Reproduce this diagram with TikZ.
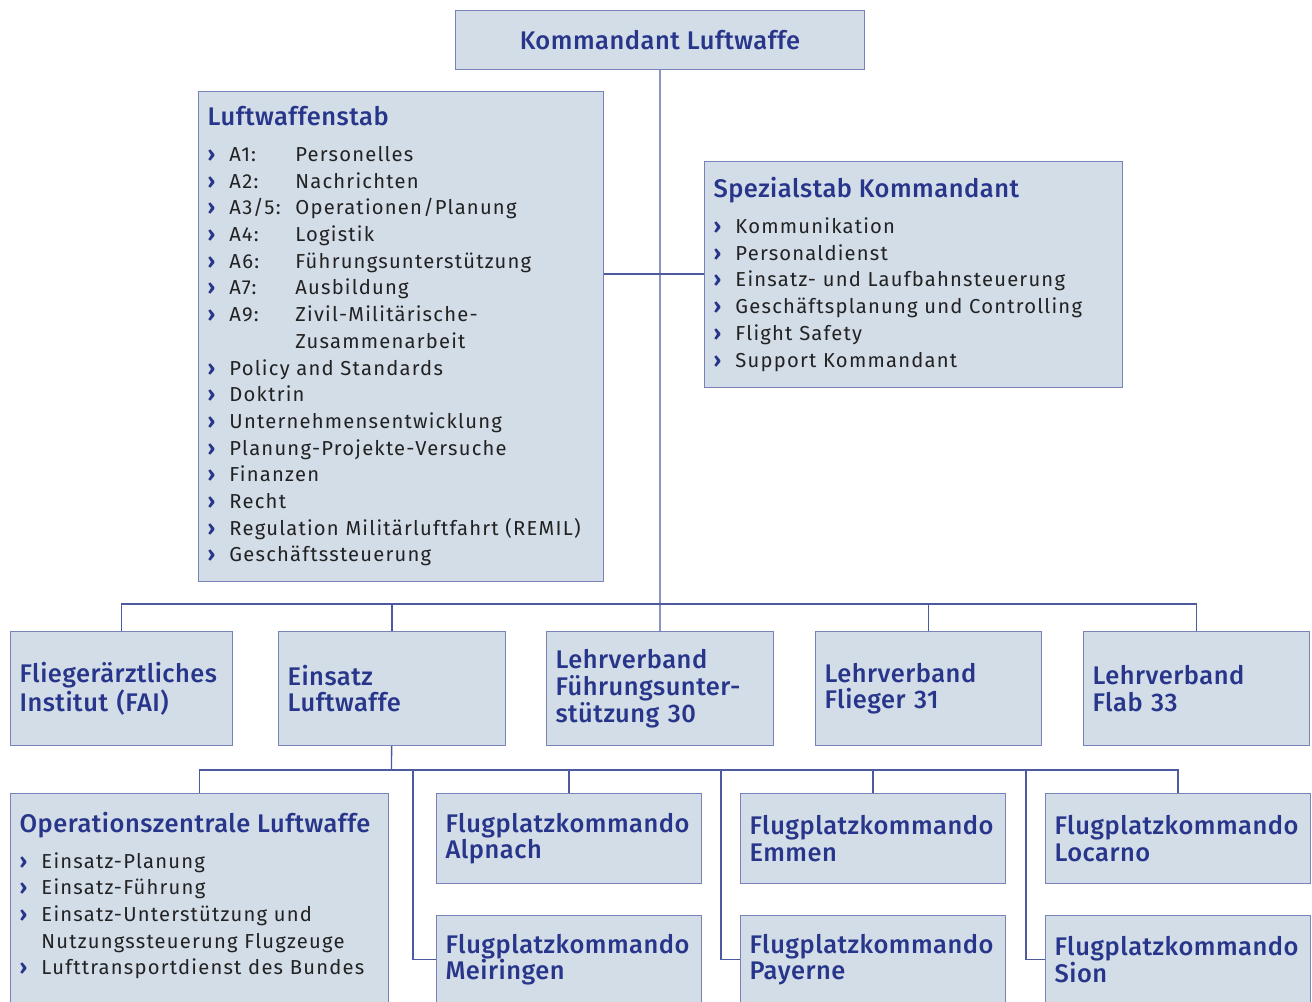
\documentclass[tikz,border=0pt]{standalone}
\usepackage{fontspec}
\setmainfont{Fira Sans}[LetterSpace=6]
\newfontfamily\medfont{Fira Sans}[UprightFont=* Medium, LetterSpace=2]
\usepackage{xcolor}
\definecolor{boxFill}{HTML}{D3DDE8}
\definecolor{boxLine}{HTML}{7783B9}
\definecolor{linkLine}{HTML}{4E5AA0}
\definecolor{navyText}{HTML}{27358A}
\definecolor{bodyText}{HTML}{222222}
\usetikzlibrary{positioning}

% bullet, key column and heading inside the staff boxes
\newcommand{\bul}{\makebox[12.5pt][l]{\textcolor{navyText}{\bfseries\large ›}}}
\newcommand{\akey}[1]{\makebox[37.5pt][l]{#1}}
\newcommand{\boxtitle}[1]{{\color{navyText}\fontsize{14.5}{15.2}\medfont #1}}

\tikzset{
    % Base style for all boxes
    orgbox/.style={
        rectangle,
        draw=boxLine,
        line width=0.6pt,
        fill=boxFill,
        anchor=north west,
        align=left,
        inner xsep=0.18cm,
        inner ysep=0pt,
        text=bodyText,
        font=\fontsize{11.5}{15.2}\selectfont,
    },
    % Boxes with a heading only
    unitbox/.style={
        orgbox,
        text=navyText,
        font=\fontsize{14.5}{15.2}\medfont,
    },
    % Connector lines
    link/.style={
        draw=linkLine,
        line width=0.75pt,
    },
}

\begin{document}
\begin{tikzpicture}[x=0.02cm, y=-0.02cm]
    \useasboundingbox (0,0) rectangle (1312,1001);
    \clip (0,0) rectangle (1312,1001);

    % top level
    \node (kdt) [unitbox, align=center, minimum width=8.18cm, minimum height=1.18cm] at (455,10) {Kommandant Luftwaffe};

    % staffs
    \node (lwstab) [orgbox, text width=7.74cm, minimum height=9.8cm] at (198,91) {%
        \boxtitle{Luftwaffenstab}\\[5pt]
        \bul\akey{A1:}Personelles\\
        \bul\akey{A2:}Nachrichten\\
        \bul\akey{A3/5:}Operationen/Planung\\
        \bul\akey{A4:}Logistik\\
        \bul\akey{A6:}Führungsunterstützung\\
        \bul\akey{A7:}Ausbildung\\
        \bul\akey{A9:}Zivil-Militärische-\\
        \hspace*{50pt}Zusammenarbeit\\
        \bul Policy and Standards\\
        \bul Doktrin\\
        \bul Unternehmensentwicklung\\
        \bul Planung-Projekte-Versuche\\
        \bul Finanzen\\
        \bul Recht\\
        \bul Regulation Militärluftfahrt (REMIL)\\
        \bul Geschäftssteuerung};
    \node (spez) [orgbox, text width=8.0cm, minimum height=4.52cm] at (704,161) {%
        \boxtitle{Spezialstab Kommandant}\\[5pt]
        \bul Kommunikation\\
        \bul Personaldienst\\
        \bul Einsatz- und Laufbahnsteuerung\\
        \bul Geschäftsplanung und Controlling\\
        \bul Flight Safety\\
        \bul Support Kommandant};

    % second level
    \node (fai) [unitbox, text width=4.08cm, minimum height=2.28cm] at (10,631) {Fliegerärztliches\\Institut (FAI)};
    \node (einsatz) [unitbox, text width=4.18cm, minimum height=2.28cm] at (278,631) {Einsatz\\Luftwaffe};
    \node (lvfu) [unitbox, text width=4.18cm, minimum height=2.28cm] at (546,631) {Lehrverband\\Führungsunter-\\stützung 30};
    \node (lvfl) [unitbox, text width=4.16cm, minimum height=2.28cm] at (815,631) {Lehrverband\\Flieger 31};
    \node (lvflab) [unitbox, text width=4.16cm, minimum height=2.28cm] at (1083,631) {Lehrverband\\Flab 33};

    % third level
    \node (ops) [orgbox, text width=7.2cm, minimum height=5.2cm] at (10,793) {%
        \boxtitle{Operationszentrale Luftwaffe}\\[5pt]
        \bul Einsatz-Planung\\
        \bul Einsatz-Führung\\
        \bul Einsatz-Unterstützung und\\
        \hspace*{12.5pt}Nutzungssteuerung Flugzeuge\\
        \bul Lufttransportdienst des Bundes\rule[-1.2cm]{0pt}{1.2cm}};
    \node (alp) [unitbox, text width=4.94cm, minimum height=1.8cm] at (436,793) {Flugplatzkommando\\Alpnach};
    \node (emm) [unitbox, text width=4.94cm, minimum height=1.8cm] at (740,793) {Flugplatzkommando\\Emmen};
    \node (loc) [unitbox, text width=4.94cm, minimum height=1.8cm] at (1045,793) {Flugplatzkommando\\Locarno};
    \node (mei) [unitbox, text width=4.94cm, minimum height=1.76cm, below=0.62cm of alp] {Flugplatzkommando\\Meiringen};
    \node (pay) [unitbox, text width=4.94cm, minimum height=1.76cm, below=0.62cm of emm] {Flugplatzkommando\\Payerne};
    \node (sion) [unitbox, text width=4.94cm, minimum height=1.76cm, below=0.62cm of loc] {Flugplatzkommando\\Sion};

    % connectors
    \coordinate (staffjoin) at (660,274);
    \coordinate (busA) at (660,604);
    \coordinate (busB) at (391.5,770);

    \draw [link] (kdt) -- (lvfu);
    \draw [link] (lwstab.east |- staffjoin) -- (spez.west |- staffjoin);
    \draw [link] (fai.north) |- (busA) -| (lvflab.north);
    \draw [link] (einsatz.north) -- (einsatz.north |- busA);
    \draw [link] (lvfl.north) -- (lvfl.north |- busA);
    \draw [link] (einsatz) -- (busB);
    \draw [link] (ops.north) |- (busB) -| (loc.north);
    \draw [link] (alp.north) -- (alp.north |- busB);
    \draw [link] (emm.north) -- (emm.north |- busB);
    \draw [link] (mei.west) -| ([xshift=-0.46cm]mei.west |- busB);
    \draw [link] (pay.west) -| ([xshift=-0.38cm]pay.west |- busB);
    \draw [link] (sion.west) -| ([xshift=-0.38cm]sion.west |- busB);
\end{tikzpicture}
\end{document}
